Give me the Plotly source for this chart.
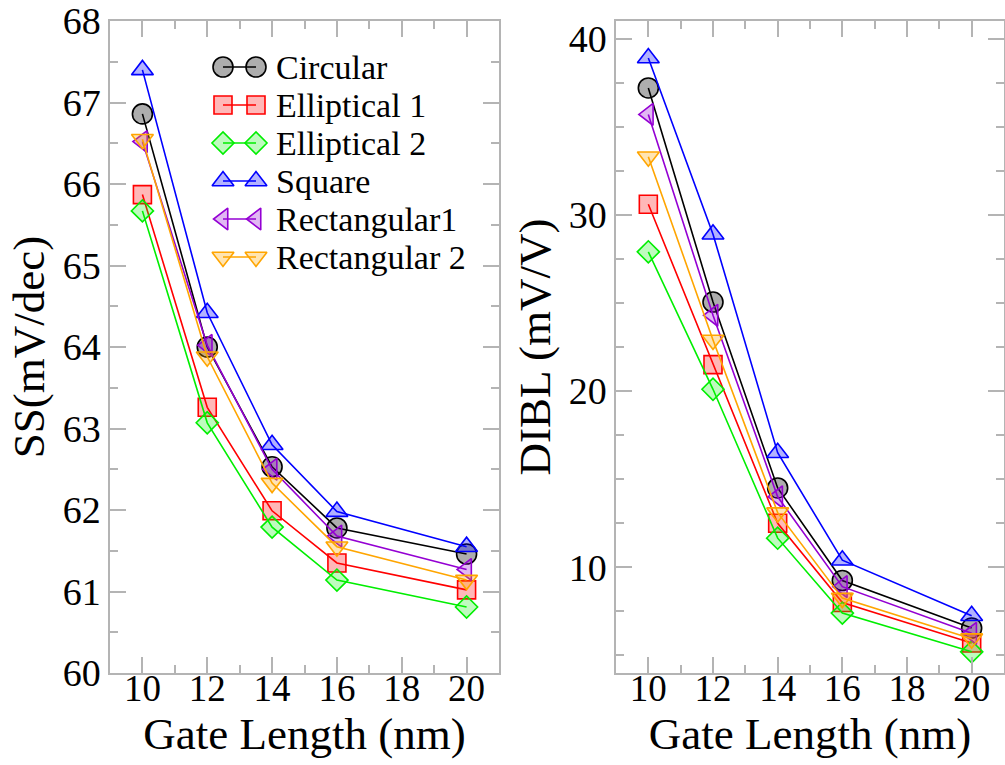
import plotly.graph_objects as go
from plotly.subplots import make_subplots

gate_length = [10, 12, 14, 16, 20]

names = ["Circular", "Elliptical 1", "Elliptical 2", "Square", "Rectangular1", "Rectangular 2"]

ss_circular = [66.86, 64.00, 62.53, 61.78, 61.46]
ss_ellip1 = [65.87, 63.26, 61.99, 61.35, 61.02]
ss_ellip2 = [65.67, 63.07, 61.79, 61.14, 60.81]
ss_square = [67.40, 64.42, 62.80, 61.98, 61.55]
ss_rect1 = [66.52, 64.02, 62.50, 61.68, 61.27]
ss_rect2 = [66.55, 63.88, 62.33, 61.55, 61.14]

dibl_circular = [37.2, 25.05, 14.5, 9.25, 6.55]
dibl_ellip1 = [30.6, 21.5, 12.5, 8.0, 5.7]
dibl_ellip2 = [27.9, 20.1, 11.65, 7.4, 5.2]
dibl_square = [38.9, 28.9, 16.5, 10.4, 7.25]
dibl_rect1 = [35.7, 24.3, 14.0, 8.9, 6.25]
dibl_rect2 = [33.3, 22.9, 13.1, 8.25, 5.95]

ss_series = [ss_circular, ss_ellip1, ss_ellip2, ss_square, ss_rect1, ss_rect2]
dibl_series = [dibl_circular, dibl_ellip1, dibl_ellip2, dibl_square, dibl_rect1, dibl_rect2]

line_colors = ["#000000", "#ff0000", "#00ee00", "#0000ff", "#9400d3", "#ffa500"]
fill_colors = ["rgba(0,0,0,0.32)", "rgba(255,0,0,0.28)", "rgba(0,238,0,0.25)",
               "rgba(0,0,255,0.30)", "rgba(148,0,211,0.28)", "rgba(255,165,0,0.30)"]
symbols = ["circle", "square", "diamond", "triangle-up", "triangle-left", "triangle-down"]
sizes = [20, 18, 17, 19, 19, 19]

FONT = "Liberation Serif"
W, H = 1005, 765
PL, PR, PT, PB = 110, 499, 21, 673  # left panel pixel box

fig = make_subplots(rows=1, cols=2)


def marker_for(i):
    return dict(symbol=symbols[i], size=sizes[i], color=fill_colors[i],
                line=dict(color=line_colors[i], width=1.6))


for i, name in enumerate(names):
    fig.add_trace(go.Scatter(x=gate_length, y=ss_series[i], mode="lines+markers", name=name,
                             line=dict(color=line_colors[i], width=1.6), marker=marker_for(i),
                             showlegend=False), row=1, col=1)
    fig.add_trace(go.Scatter(x=gate_length, y=dibl_series[i], mode="lines+markers", name=name,
                             line=dict(color=line_colors[i], width=1.6), marker=marker_for(i),
                             showlegend=False), row=1, col=2)

# Legend drawn in an invisible pixel-coordinate overlay on the left panel
leg_x0, leg_x1, leg_text_x = 223, 256, 274
leg_y0, leg_dy = 67, 38
for i, name in enumerate(names):
    yy = leg_y0 + leg_dy * i
    fig.add_trace(go.Scatter(x=[leg_x0, leg_x1], y=[yy, yy], mode="lines+markers", name=name,
                             line=dict(color=line_colors[i], width=1.6), marker=marker_for(i),
                             showlegend=False, hoverinfo="skip", xaxis="x3", yaxis="y3"))
    fig.add_annotation(x=leg_text_x, y=yy, xref="x3", yref="y3", text=name, showarrow=False,
                       xanchor="left", yanchor="middle",
                       font=dict(family=FONT, size=34, color="black"))

axis_color = "#b4b4b4"
common_x = dict(range=[9, 21], tickvals=[10, 12, 14, 16, 18, 20], ticks="inside", ticklen=16,
                tickcolor=axis_color, tickwidth=1.5, showline=True, linecolor=axis_color,
                linewidth=1.5, mirror="allticks", showgrid=False, zeroline=False,
                tickfont=dict(family=FONT, size=37, color="black"), ticklabelstandoff=-18,
                title=dict(text="Gate Length (nm)", font=dict(family=FONT, size=45, color="black"),
                           standoff=0),
                minor=dict(dtick=1, tick0=0, ticks="inside", ticklen=8, tickcolor=axis_color,
                           tickwidth=1.5, showgrid=False))

fig.update_xaxes(**common_x, row=1, col=1)
fig.update_xaxes(**common_x, row=1, col=2)

common_y = dict(ticks="inside", ticklen=16, tickcolor=axis_color, tickwidth=1.5, showline=True,
                linecolor=axis_color, linewidth=1.5, mirror="allticks", showgrid=False,
                zeroline=False, tickfont=dict(family=FONT, size=38, color="black"))

fig.update_yaxes(**common_y, range=[60, 68], dtick=1,
                 minor=dict(dtick=0.5, ticks="inside", ticklen=8, tickcolor=axis_color,
                            tickwidth=1.5, showgrid=False),
                 title=dict(text="SS(mV/dec)", font=dict(family=FONT, size=45, color="black"),
                            standoff=4),
                 row=1, col=1)
fig.update_yaxes(**common_y, range=[4, 41], tickvals=[10, 20, 30, 40],
                 minor=dict(dtick=2.5, tick0=0, ticks="inside", ticklen=8, tickcolor=axis_color,
                            tickwidth=1.5, showgrid=False),
                 title=dict(text="DIBL (mV/V)", font=dict(family=FONT, size=45, color="black"),
                            standoff=4),
                 row=1, col=2)

fig.update_layout(
    width=W, height=H,
    margin=dict(l=0, r=0, t=PT, b=H - PB),
    paper_bgcolor="white", plot_bgcolor="white",
    font=dict(family=FONT, color="black"),
    showlegend=False,
    xaxis=dict(domain=[PL / W, PR / W]),
    xaxis2=dict(domain=[616 / W, 1004 / W]),
    xaxis3=dict(domain=[PL / W, PR / W], range=[PL, PR], overlaying="x", visible=False,
                fixedrange=True, anchor="y3"),
    yaxis3=dict(range=[PB, PT], overlaying="y", visible=False, fixedrange=True, anchor="x3"),
)

fig.write_html("out.html")
